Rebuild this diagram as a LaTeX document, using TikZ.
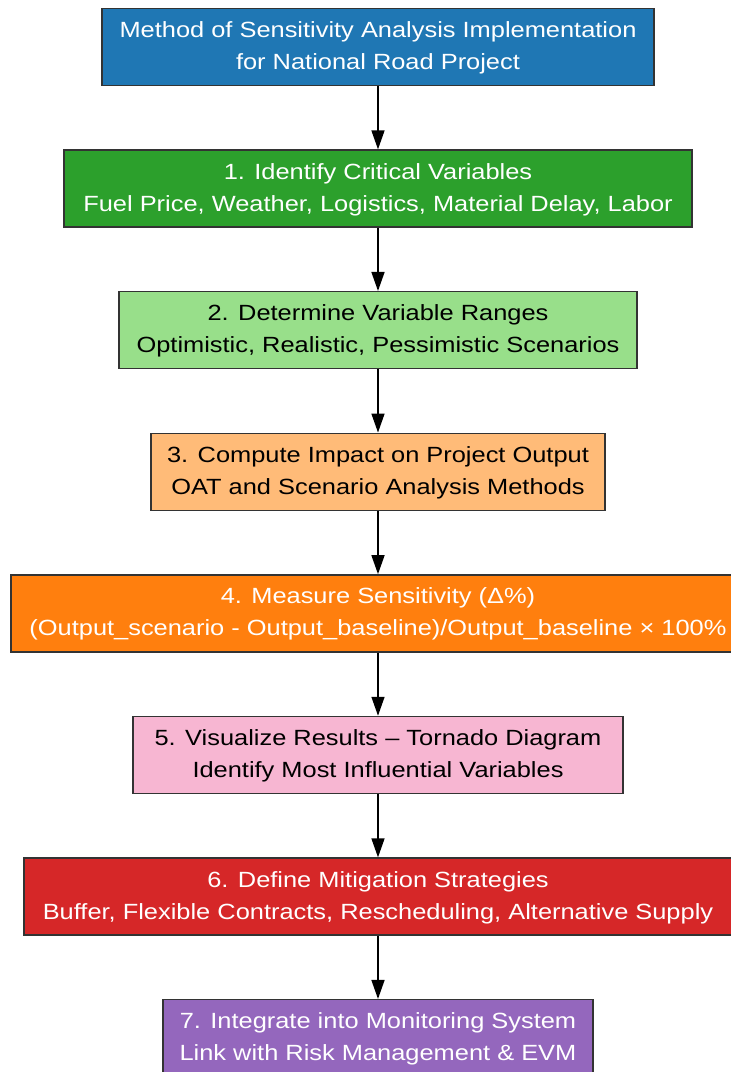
\documentclass[tikz,border=0pt]{standalone}
\usepackage{fontspec}
\setmainfont{Liberation Sans}
\usepackage{graphicx}
\usetikzlibrary{arrows.meta}

\definecolor{cTitle}{HTML}{1F77B4}
\definecolor{cOne}{HTML}{2CA02C}
\definecolor{cTwo}{HTML}{98DF8A}
\definecolor{cThree}{HTML}{FFBB78}
\definecolor{cFour}{HTML}{FF7F0E}
\definecolor{cFive}{HTML}{F7B6D2}
\definecolor{cSix}{HTML}{D62728}
\definecolor{cSeven}{HTML}{9467BD}
\definecolor{cEdge}{HTML}{333333}

% two centred lines, slightly widened
\newcommand{\boxlines}[2]{\scalebox{1.155}[1]{\begin{tabular}{@{}c@{}}#1\\#2\end{tabular}}}

\tikzset{
  stagebox/.style={draw=cEdge, line width=1.5pt, rectangle, inner sep=0pt,
    minimum height=77pt, font=\fontsize{22}{32}\selectfont},
  darktext/.style={text=white},
  lighttext/.style={text=black},
  flow/.style={draw=black, line width=1.5pt, -{Triangle[length=19pt,width=13pt]}}
}

\begin{document}
\begin{tikzpicture}[x=1pt,y=1pt]
  \clip (0,0) rectangle (731,-1072);
  \fill[white] (0,0) rectangle (731,-1072);

  \node[stagebox, darktext, fill=cTitle, minimum width=552pt] (t) at (378,-47)
    {\boxlines{Method of Sensitivity Analysis Implementation}{for National Road Project}};
  \node[stagebox, darktext, fill=cOne, minimum width=628pt] (s1) at (378,-188.6)
    {\boxlines{1. Identify Critical Variables}{Fuel Price, Weather, Logistics, Material Delay, Labor}};
  \node[stagebox, lighttext, fill=cTwo, minimum width=518pt] (s2) at (378,-330.2)
    {\boxlines{2. Determine Variable Ranges}{Optimistic, Realistic, Pessimistic Scenarios}};
  \node[stagebox, lighttext, fill=cThree, minimum width=454pt] (s3) at (378,-471.8)
    {\boxlines{3. Compute Impact on Project Output}{OAT and Scenario Analysis Methods}};
  \node[stagebox, darktext, fill=cFour, minimum width=734pt] (s4) at (378,-613.4)
    {\boxlines{4. Measure Sensitivity (Δ\%)}{(Output\_scenario - Output\_baseline)/Output\_baseline × 100\%}};
  \node[stagebox, lighttext, fill=cFive, minimum width=490pt] (s5) at (378,-755)
    {\boxlines{5. Visualize Results – Tornado Diagram}{Identify Most Influential Variables}};
  \node[stagebox, darktext, fill=cSix, minimum width=708pt] (s6) at (378,-896.6)
    {\boxlines{6. Define Mitigation Strategies}{Buffer, Flexible Contracts, Rescheduling, Alternative Supply}};
  \node[stagebox, darktext, fill=cSeven, minimum width=430pt] (s7) at (378,-1038.2)
    {\boxlines{7. Integrate into Monitoring System}{Link with Risk Management \& EVM}};

  \draw[flow] (t) -- (s1);
  \draw[flow] (s1) -- (s2);
  \draw[flow] (s2) -- (s3);
  \draw[flow] (s3) -- (s4);
  \draw[flow] (s4) -- (s5);
  \draw[flow] (s5) -- (s6);
  \draw[flow] (s6) -- (s7);
\end{tikzpicture}
\end{document}
